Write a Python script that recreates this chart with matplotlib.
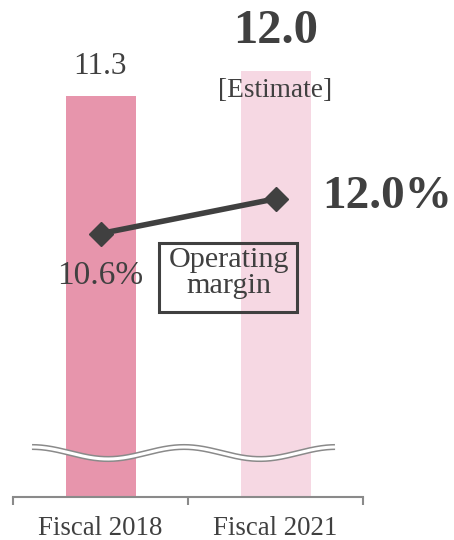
import numpy as np
import matplotlib
matplotlib.use("Agg")
import matplotlib.pyplot as plt
from matplotlib.patches import Rectangle

plt.rcParams['font.family'] = ['Liberation Serif', 'DejaVu Serif']

# Data
categories = ["Fiscal 2018", "Fiscal 2021"]
sales = [11.3, 12.0]
sales_labels = ["11.3", "12.0"]
margin = [10.6, 12.0]
margin_labels = ["10.6%", "12.0%"]
bar_colors = ["#E795AC", "#F6D8E3"]

TEXT = "#404040"
AXIS = "#8A8A8A"

fig = plt.figure(figsize=(4.54, 5.40), dpi=100)
W, H = 454, 540
x0, x1, y_axis = 13, 363, 497
ax = fig.add_axes([x0 / W, (H - y_axis) / H, (x1 - x0) / W, y_axis / H])

x = np.arange(len(categories))
ax.bar(x, sales, width=0.4, color=bar_colors, zorder=1)
ax.set_xlim(-0.5, 1.5)
ax.set_ylim(0, 14)

# Axis styling: only the bottom spine with separators between categories
for s in ["left", "right", "top"]:
    ax.spines[s].set_visible(False)
ax.spines["bottom"].set_color(AXIS)
ax.spines["bottom"].set_linewidth(1.5)
ax.set_yticks([])
ax.set_xticks(x)
ax.set_xticklabels(categories, fontsize=19.4, color=TEXT)
ax.tick_params(axis="x", which="major", length=0, pad=14)
ax.set_xticks([-0.5, 0.5, 1.5], minor=True)
ax.tick_params(axis="x", which="minor", length=6, width=1.5, color=AXIS, direction="out")

# Sales value labels
ax.annotate(sales_labels[0], (x[0], sales[0]), xytext=(0, 16), textcoords="offset points",
            ha="center", va="baseline", fontsize=22.5, color=TEXT)
ax.annotate(sales_labels[1], (x[1], sales[1]), xytext=(0, 20), textcoords="offset points",
            ha="center", va="baseline", fontsize=35, fontweight="bold", color=TEXT)
ax.annotate("[Estimate]", (x[1], sales[1]), xytext=(0, -19), textcoords="offset points",
            ha="center", va="baseline", fontsize=19.7, color=TEXT)

# Operating margin line on a secondary scale
ax2 = ax.twinx()
ax2.set_ylim(0, 20)
ax2.axis("off")
ax2.plot(x, margin, color=TEXT, linewidth=4, marker="D", markersize=12, zorder=3)
ax2.annotate(margin_labels[0], (x[0], margin[0]), xytext=(0, -36.5), textcoords="offset points",
             ha="center", va="baseline", fontsize=24, color=TEXT)
ax2.annotate(margin_labels[1], (x[1], margin[1]), xytext=(34, -6.5), textcoords="offset points",
             ha="left", va="baseline", fontsize=34, fontweight="bold", color=TEXT)

# Legend-style box for the line
ax2.add_patch(Rectangle((0.417, 0.372), 0.394, 0.139, transform=ax2.transAxes,
                        fill=False, edgecolor=TEXT, linewidth=2.2, zorder=4))
ax2.text(0.617, 0.4628, "Operating", transform=ax2.transAxes, ha="center", va="baseline",
         fontsize=21.7, color=TEXT)
ax2.text(0.617, 0.4105, "margin", transform=ax2.transAxes, ha="center", va="baseline",
         fontsize=21.7, color=TEXT)

# Wavy axis-break mark across the bars
px = np.linspace(32, 335, 400)
py = 453 - 6 * np.cos(2 * np.pi * (px - 32) / 152)
bx = (px - x0) / (x1 - x0)
by = (y_axis - py) / y_axis
ax2.plot(bx, by, transform=ax2.transAxes, color=AXIS, linewidth=4.4,
         solid_capstyle="butt", zorder=5, clip_on=False)
ax2.plot(bx, by, transform=ax2.transAxes, color="white", linewidth=2.2,
         solid_capstyle="butt", zorder=6, clip_on=False)

fig.savefig("out.png", dpi=100)
